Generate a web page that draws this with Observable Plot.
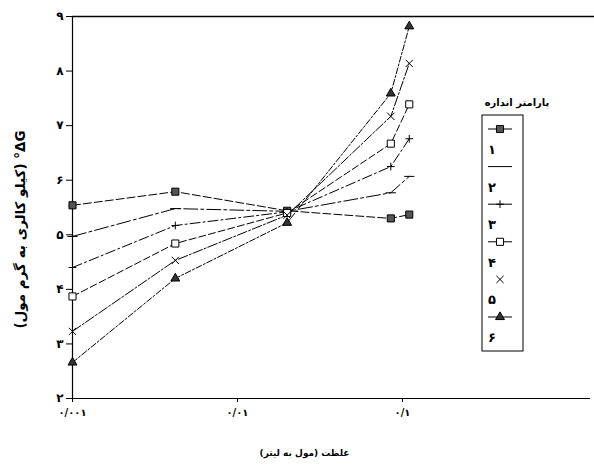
<!DOCTYPE html>
<html>
<head>
<meta charset="utf-8">
<script src="https://cdn.jsdelivr.net/npm/d3@7"></script>
<script src="https://cdn.jsdelivr.net/npm/@observablehq/plot@0.6"></script>
<style>
  body { margin: 0; background: #fff; }
  #wrap { position: relative; width: 594px; height: 465px; font-family: "DejaVu Sans", sans-serif; }
  #legend { position: absolute; left: 0; top: 0; }
</style>
</head>
<body>
<div id="wrap"></div>
<script>
// ---- data ----
const concentration = [0.001, 0.0042, 0.02, 0.085, 0.11];
const series1 = [5.54, 5.79, 5.44, 5.30, 5.37];
const series2 = [4.97, 5.48, 5.43, 5.77, 6.07];
const series3 = [4.40, 5.17, 5.42, 6.25, 6.76];
const series4 = [3.87, 4.84, 5.40, 6.67, 7.39];
const series5 = [3.23, 4.53, 5.36, 7.17, 8.14];
const series6 = [2.66, 4.20, 5.22, 7.59, 8.82];
const seriesNames = ["۱", "۲", "۳", "۴", "۵", "۶"];
const xTicks = [0.001, 0.01, 0.1];
const xTickLabels = ["۰/۰۰۱", "۰/۰۱", "۰/۱"];
const yTicks = [2, 3, 4, 5, 6, 7, 8, 9];
const yTickLabels = ["۲", "۳", "۴", "۵", "۶", "۷", "۸", "۹"];
const xLabel = "غلظت (مول به لیتر)";
const yLabel = "ΔG° (کیلو کالری به گرم مول)";
const legendTitle = "پارامتر اندازه";

// ---- styles ----
const dashSym = { draw(ctx, size) { const r = Math.sqrt(size) * 0.9; ctx.moveTo(-r, 0); ctx.lineTo(r, 0); } };
const styles = [
  { dash: "8,3", symbol: "square", fill: "#555", stroke: "#000", r: 4 },
  { dash: "14,3,3,3", symbol: dashSym, fill: "none", stroke: "#000", r: 3.2 },
  { dash: "10,3,2,3", symbol: "plus", fill: "none", stroke: "#000", r: 2.6 },
  { dash: "7,3", symbol: "square", fill: "white", stroke: "#000", r: 4 },
  { dash: "10,2,2,2", symbol: "times", fill: "none", stroke: "#000", r: 3.4 },
  { dash: "6,2,2,2", symbol: "triangle", fill: "#333", stroke: "#000", r: 3.3 }
];
const allSeries = [series1, series2, series3, series4, series5, series6];
const tables = allSeries.map((vals, i) => concentration.map((c, j) => ({ x: c, y: vals[j], s: seriesNames[i] })));

const marks = [];
tables.forEach((t, i) => {
  marks.push(Plot.line(t, { x: "x", y: "y", stroke: "#000", strokeWidth: 1, strokeDasharray: styles[i].dash }));
});
tables.forEach((t, i) => {
  marks.push(Plot.dot(t, { x: "x", y: "y", symbol: () => styles[i].symbol, r: styles[i].r, fill: styles[i].fill, stroke: styles[i].stroke, strokeWidth: 1 }));
});

const RLE = "\u202B", PDF = "\u202C";

const chart = Plot.plot({
  width: 594,
  height: 465,
  marginLeft: 72,
  marginRight: 4,
  marginTop: 16,
  marginBottom: 67,
  style: { fontFamily: "DejaVu Sans, sans-serif", fontSize: "11px", color: "#000", background: "#fff" },
  symbol: { type: "identity" },
  x: { type: "log", domain: [0.001, 1.38] },
  y: { domain: [2, 9] },
  marks: [
    Plot.ruleY([9], { stroke: "#000", strokeWidth: 1.5, insetRight: -4 }),
    Plot.ruleY([2], { stroke: "#000", strokeWidth: 1.2 }),
    Plot.ruleX([0.001], { stroke: "#000", strokeWidth: 1.2 }),
    Plot.axisY({ ticks: yTicks, tickFormat: (d) => yTickLabels[yTicks.indexOf(d)], tickSize: 6, tickPadding: 3, label: null, fontWeight: "bold", fontSize: 12 }),
    Plot.axisX({ ticks: xTicks, tickFormat: (d) => xTickLabels[xTicks.indexOf(d)], tickSize: 4, tickPadding: 6, label: null, fontWeight: "bold", fontSize: 10 }),
    Plot.text([xLabel], { text: (d) => RLE + d + PDF, frameAnchor: "bottom", textAnchor: "middle", dx: -27, dy: 57, fontWeight: "bold", fontSize: 9 }),
    Plot.text([yLabel], { text: (d) => RLE + d + PDF, frameAnchor: "left", textAnchor: "middle", rotate: -90, dx: -52, dy: 22, fontWeight: "bold", fontSize: 13.5 }),
    ...marks
  ]
});

document.getElementById("wrap").appendChild(chart);

// ---- legend (HTML-positioned SVG overlay) ----
const lg = d3.select("#wrap").append("svg").attr("id", "legend").attr("width", 594).attr("height", 465)
  .style("font-family", "DejaVu Sans, sans-serif");
lg.append("text").attr("x", 517).attr("y", 106).attr("text-anchor", "middle")
  .attr("font-size", 10).attr("font-weight", "bold").text(RLE + legendTitle + PDF);
lg.append("rect").attr("x", 482).attr("y", 115).attr("width", 41).attr("height", 236)
  .attr("fill", "none").attr("stroke", "#000").attr("stroke-width", 1);
const rowY0 = 129, rowStep = 37.6;
seriesNames.forEach((name, i) => {
  const sy = rowY0 + i * rowStep;
  const st = styles[i];
  if (i !== 4) lg.append("line").attr("x1", 488).attr("x2", 512).attr("y1", sy).attr("y2", sy).attr("stroke", "#000").attr("stroke-width", 1);
  if (i !== 1) {
    const symObj = typeof st.symbol === "string"
      ? { square: d3.symbolSquare, plus: d3.symbolPlus, times: d3.symbolTimes, triangle: d3.symbolTriangle }[st.symbol]
      : st.symbol;
    const area = Math.PI * st.r * st.r;
    lg.append("path").attr("d", d3.symbol(symObj, area)()).attr("transform", `translate(500,${sy})`)
      .attr("fill", st.fill).attr("stroke", "#000").attr("stroke-width", 1);
  }
  lg.append("text").attr("x", 488).attr("y", sy + 25).attr("font-size", 13).attr("font-weight", "bold").text(name);
});
</script>
</body>
</html>
